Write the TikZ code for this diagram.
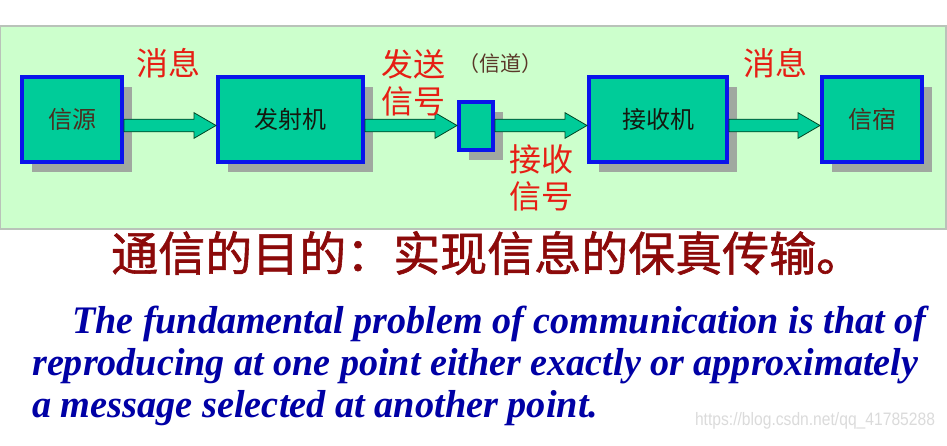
\documentclass[tikz,border=0pt]{standalone}
\usepackage{fontspec}
\setmainfont{Liberation Serif}
\newfontfamily\cjk{Noto Sans CJK SC}
\newfontfamily\cjkb[FakeBold=1.2]{Noto Sans CJK SC}
\newfontfamily\wmfont{Liberation Sans}
\usetikzlibrary{shadows,calc}
\definecolor{panelfill}{RGB}{204,255,204}
\definecolor{panelline}{RGB}{185,195,185}
\definecolor{boxfill}{RGB}{0,204,153}
\definecolor{boxblue}{RGB}{10,20,235}
\definecolor{shadowgray}{RGB}{160,168,160}
\definecolor{arrowline}{RGB}{0,70,35}
\definecolor{lblred}{RGB}{230,30,20}
\definecolor{chanbrown}{RGB}{90,55,40}
\definecolor{titlered}{RGB}{140,10,10}
\definecolor{engblue}{RGB}{0,0,165}
\definecolor{txtbrown}{RGB}{75,45,30}
\definecolor{txtdark}{RGB}{20,25,15}
\newcommand\blockarr[2]{%
  \path[blockarrow] let \p1=(#1.east), \p2=(#2.west), \p3=(ay) in
    (\x1,\y3+6.3pt) -- (\x2-22pt,\y3+6.3pt) -- (\x2-22pt,\y3+12.8pt) -- (\x2,\y3)
    -- (\x2-22pt,\y3-12.8pt) -- (\x2-22pt,\y3-6.3pt) -- (\x1,\y3-6.3pt) -- cycle;}
\begin{document}
\begin{tikzpicture}[x=1pt,y=-1pt,
  panel/.style={fill=panelfill,draw=panelline,line width=1.2pt},
  box/.style={draw=boxblue,line width=4pt,fill=boxfill,inner sep=0pt,
    drop shadow={shadow xshift=10pt,shadow yshift=-10pt,fill=shadowgray,opacity=1},
    font=\cjk\fontsize{24}{24}\selectfont},
  blockarrow/.style={fill=boxfill,draw=arrowline,line width=0.8pt,line join=miter},
  redlbl/.style={text=lblred,font=\cjk\fontsize{32}{37}\selectfont,align=center,inner sep=0pt},
  chanlbl/.style={text=chanbrown,font=\cjk\fontsize{21}{21}\selectfont,inner sep=0pt},
  titlelbl/.style={text=titlered,font=\cjkb\fontsize{47}{47}\selectfont,inner sep=0pt},
  englbl/.style={text=engblue,font=\bfseries\itshape\fontsize{39}{39}\selectfont,inner sep=0pt},
  wmlbl/.style={text=black!14,font=\wmfont\fontsize{18}{18}\selectfont,inner sep=0pt}]
\useasboundingbox (0,0) rectangle (947,446);
\fill[white] (0,0) rectangle (947,446);
\path[panel] (0,26) rectangle (946,229);
\coordinate (ay) at (0,125.5);
% boxes
\node[box,minimum width=100pt,minimum height=85pt,text=txtbrown] (src) at (72,119.5) {信源};
\node[box,minimum width=145pt,minimum height=85pt,text=txtdark] (tx) at (290.5,119.5) {发射机};
\node[box,minimum width=34pt,minimum height=48pt] (ch) at (476,126) {};
\node[box,minimum width=138pt,minimum height=85pt,text=txtdark] (rx) at (658,119.5) {接收机};
\node[box,minimum width=100pt,minimum height=85pt,text=txtbrown] (dst) at (872,119.5) {信宿};
% arrows
\blockarr{src}{tx}
\blockarr{tx}{ch}
\blockarr{ch}{rx}
\blockarr{rx}{dst}
% labels
\node[redlbl] (m1) at (168,63) {消息};
\node[redlbl] (ts) at (413,83) {发送\\信号};
\node[chanlbl] (chl) at (500,64) {（信道）};
\node[redlbl] (rs) at (541,177.5) {接收\\信号};
\node[redlbl] (m2) at (775,63) {消息};
% title
\node[titlelbl,anchor=west] (title) at (111,253) {通信的目的：实现信息的保真传输。};
% english
\node[englbl,anchor=base west] (e1) at (72,333) {\resizebox{854pt}{\height}{The fundamental problem of communication is that of}};
\node[englbl,anchor=base west] (e2) at (32,375) {\resizebox{886pt}{\height}{reproducing at one point either exactly or approximately}};
\node[englbl,anchor=base west] (e3) at (32,417) {\resizebox{566pt}{\height}{a message selected at another point.}};
\node[wmlbl] (wm) at (815,421) {\resizebox{240pt}{\height}{https://blog.csdn.net/qq\_41785288}};
\end{tikzpicture}
\end{document}
